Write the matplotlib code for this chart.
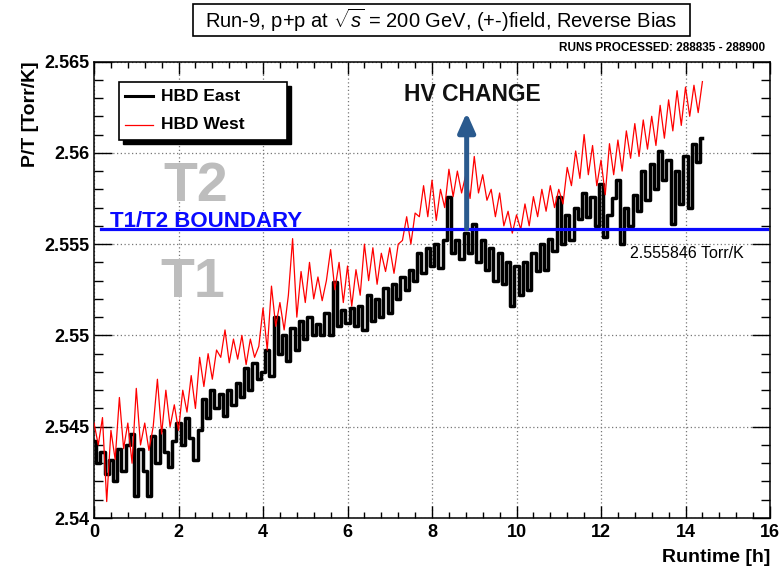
import numpy as np
import matplotlib
matplotlib.use("Agg")
import matplotlib.pyplot as plt
from matplotlib.patches import Rectangle
from matplotlib.lines import Line2D
from matplotlib.ticker import MultipleLocator, FixedLocator

plt.rcParams['font.family'] = ['Liberation Sans', 'DejaVu Sans']
plt.rcParams['mathtext.fontset'] = 'custom'
plt.rcParams['mathtext.rm'] = 'Liberation Sans'
plt.rcParams['mathtext.it'] = 'Liberation Sans:italic'

# P/T readings, one every 0.1 h of runtime
step_h = 0.1
p_over_t_east = [
    2.5442, 2.5430, 2.5436, 2.5424, 2.5432, 2.5420, 2.5438, 2.5426, 2.5440, 2.5446,
    2.5412, 2.5438, 2.5426, 2.5412, 2.5445, 2.5430, 2.5448, 2.5436, 2.5428, 2.5442,
    2.5452, 2.5440, 2.5455, 2.5444, 2.5432, 2.5448, 2.5465, 2.5455, 2.5470, 2.5460,
    2.5468, 2.5456, 2.5470, 2.5462, 2.5474, 2.5466, 2.5482, 2.5470, 2.5485, 2.5476,
    2.5480, 2.5492, 2.5478, 2.5510, 2.5490, 2.5500, 2.5486, 2.5504, 2.5492, 2.5508,
    2.5498, 2.5510, 2.5500, 2.5506, 2.5500, 2.5512, 2.5500, 2.5529, 2.5505, 2.5514,
    2.5507, 2.5515, 2.5505, 2.5516, 2.5503, 2.5522, 2.5508, 2.5520, 2.5510, 2.5526,
    2.5512, 2.5528, 2.5520, 2.5532, 2.5525, 2.5536, 2.5530, 2.5545, 2.5534, 2.5548,
    2.5538, 2.5550, 2.5537, 2.5552, 2.5576, 2.5545, 2.5552, 2.5542, 2.5556, 2.5545,
    2.5561, 2.5540, 2.5552, 2.5536, 2.5548, 2.5530, 2.5545, 2.5528, 2.5540, 2.5516,
    2.5538, 2.5522, 2.5540, 2.5525, 2.5545, 2.5535, 2.5550, 2.5536, 2.5553, 2.5546,
    2.5576, 2.5550, 2.5566, 2.5552, 2.5570, 2.5564, 2.5578, 2.5565, 2.5576, 2.5560,
    2.5583, 2.5554, 2.5566, 2.5575, 2.5585, 2.5550, 2.5570, 2.5560, 2.5577, 2.5568,
    2.5590, 2.5574, 2.5594, 2.5580, 2.5601, 2.5585, 2.5596, 2.5561, 2.5590, 2.5572,
    2.5598, 2.5570, 2.5605, 2.5595, 2.5608,
]
p_over_t_west = [
    2.5452, 2.5440, 2.5455, 2.5409, 2.5448, 2.5432, 2.5466, 2.5438, 2.5452, 2.5430,
    2.5471, 2.5440, 2.5452, 2.5437, 2.5450, 2.5476, 2.5446, 2.5470, 2.5450, 2.5462,
    2.5448, 2.5470, 2.5458, 2.5478, 2.5460, 2.5488, 2.5472, 2.5490, 2.5476, 2.5492,
    2.5488, 2.5503, 2.5485, 2.5498, 2.5487, 2.5500, 2.5484, 2.5498, 2.5488, 2.5494,
    2.5515, 2.5492, 2.5527, 2.5505, 2.5518, 2.5503, 2.5522, 2.5553, 2.5510, 2.5535,
    2.5518, 2.5540, 2.5520, 2.5532, 2.5519, 2.5530, 2.5547, 2.5525, 2.5540, 2.5518,
    2.5538, 2.5516, 2.5536, 2.5522, 2.5550, 2.5530, 2.5548, 2.5528, 2.5545, 2.5535,
    2.5548, 2.5534, 2.5550, 2.5552, 2.5565, 2.5550, 2.5567, 2.5565, 2.5582, 2.5565,
    2.5585, 2.5563, 2.5580, 2.5570, 2.5591, 2.5576, 2.5590, 2.5578, 2.5588, 2.5575,
    2.5598, 2.5578, 2.5588, 2.5574, 2.5580, 2.5565, 2.5578, 2.5560, 2.5568, 2.5556,
    2.5566, 2.5558, 2.5572, 2.5560, 2.5576, 2.5565, 2.5580, 2.5568, 2.5582, 2.5570,
    2.5580, 2.5572, 2.5592, 2.5582, 2.5601, 2.5586, 2.5610, 2.5588, 2.5604, 2.5582,
    2.5596, 2.5577, 2.5605, 2.5588, 2.5607, 2.5590, 2.5612, 2.5597, 2.5616, 2.5598,
    2.5618, 2.5602, 2.5620, 2.5604, 2.5626, 2.5608, 2.5629, 2.5612, 2.5634, 2.5615,
    2.5636, 2.5620, 2.5637, 2.5622, 2.5639,
]
runtime = np.arange(len(p_over_t_east)) * step_h

boundary = 2.555846
hv_change_h = 8.82
y_ticks = [2.54, 2.545, 2.55, 2.555, 2.56, 2.565]
y_tick_labels = ['2.54', '2.545', '2.55', '2.555', '2.56', '2.565']

fig = plt.figure(figsize=(7.83, 5.70), dpi=100)
ax = fig.add_axes([0.1201, 0.0912, 0.8633, 0.8009])

ax.plot(runtime, p_over_t_east, color='black', lw=2.5, drawstyle='steps-mid', zorder=3)
ax.plot(runtime, p_over_t_west, color='#ff0000', lw=0.9, zorder=4)

ax.set_xlim(0, 16)
ax.set_ylim(2.54, 2.565)
ax.xaxis.set_major_locator(MultipleLocator(2))
ax.xaxis.set_minor_locator(MultipleLocator(0.4))
ax.yaxis.set_major_locator(FixedLocator(y_ticks))
ax.set_yticklabels(y_tick_labels)
ax.yaxis.set_minor_locator(MultipleLocator(0.001))
ax.grid(True, which='major', color='#777777', linestyle=(0, (1, 2)), lw=0.9)

for s in ax.spines.values():
    s.set_linewidth(1.1)
ax.tick_params(which='both', direction='in', top=True, right=True, width=1.0,
               labelsize=13)
ax.tick_params(axis='x', which='major', length=8.5, pad=4)
ax.tick_params(axis='x', which='minor', length=4.3)
ax.tick_params(axis='y', which='major', length=13, pad=3)
ax.tick_params(axis='y', which='minor', length=6.5)
for lab in ax.get_xticklabels() + ax.get_yticklabels():
    lab.set_fontweight('bold')

ax.set_xlabel('Runtime [h]', fontsize=14, fontweight='bold', loc='right', labelpad=6)
ax.set_ylabel('P/T [Torr/K]', fontsize=14, fontweight='bold', loc='top', labelpad=4)

# T1/T2 boundary and the HV change marker
ax.axhline(boundary, xmin=0.01, xmax=0.995, color='#0a0aff', lw=2.3, zorder=5)
ax.text(0.38, boundary + 0.00011, 'T1/T2 BOUNDARY', color='#0a0aff', fontsize=16,
        fontweight='bold', va='baseline', ha='left', zorder=6)
ax.text(12.69, 2.55423, '2.555846 Torr/K', fontsize=11.5, va='baseline', ha='left', zorder=6)
ax.text(2.41, 2.55735, 'T2', color='#bdbdbd', fontsize=40, fontweight='bold',
        ha='center', va='baseline', zorder=2)
ax.text(2.34, 2.55210, 'T1', color='#bdbdbd', fontsize=40, fontweight='bold',
        ha='center', va='baseline', zorder=2)
ax.annotate('', xy=(hv_change_h, 2.5622), xytext=(hv_change_h, boundary),
            arrowprops=dict(arrowstyle='-|>,head_length=0.72,head_width=0.32',
                            mutation_scale=16, lw=3.6, color='#2a5a8e',
                            shrinkA=0, shrinkB=0), zorder=6)
ax.text(8.95, 2.56282, 'HV CHANGE', fontsize=16.5, fontweight='bold', color='#111111',
        ha='center', va='baseline', zorder=6)

# legend box with drop shadow
ax.add_patch(Rectangle((0.043, 0.819), 0.2485, 0.127, transform=ax.transAxes,
                       facecolor='black', edgecolor='black', zorder=7, clip_on=False))
ax.add_patch(Rectangle((0.037, 0.828), 0.2485, 0.127, transform=ax.transAxes,
                       facecolor='white', edgecolor='black', lw=1.2, zorder=8, clip_on=False))
ax.add_line(Line2D([0.046, 0.087], [0.924, 0.924], transform=ax.transAxes,
                   color='black', lw=2.2, zorder=9))
ax.add_line(Line2D([0.046, 0.087], [0.861, 0.861], transform=ax.transAxes,
                   color='#ff0000', lw=0.9, zorder=9))
ax.text(0.099, 0.924, 'HBD East', transform=ax.transAxes, fontsize=12.5,
        fontweight='bold', va='center', zorder=9)
ax.text(0.099, 0.861, 'HBD West', transform=ax.transAxes, fontsize=12.5,
        fontweight='bold', va='center', zorder=9)

# title box
fig.patches.append(Rectangle((0.2465, 0.937), 0.6345, 0.056, transform=fig.transFigure,
                             fill=False, edgecolor='black', lw=1.2))
fig.text(0.563, 0.965, r'Run-9, p+p at $\sqrt{s}$ = 200 GeV, (+-)field, Reverse Bias',
         ha='center', va='center', fontsize=14.5)
fig.text(0.977, 0.916, 'RUNS PROCESSED: 288835 - 288900', ha='right', va='center',
         fontsize=8.5, fontweight='bold',
         family=['Liberation Sans Narrow', 'Liberation Sans'])

fig.savefig('out.png', dpi=100)
